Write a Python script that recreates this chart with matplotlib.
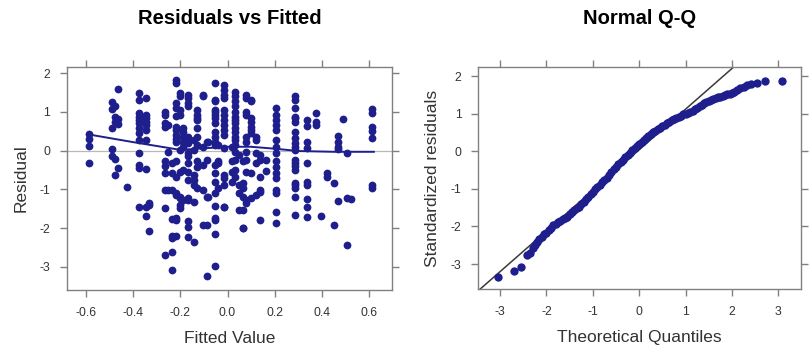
import matplotlib
matplotlib.use("Agg")
import matplotlib.pyplot as plt

# ---- left panel: residuals vs fitted, grouped by fitted value ----
fit_levels = [-0.586, -0.49, -0.475, -0.462, -0.425, -0.375, -0.346, -0.332,
              -0.266, -0.254, -0.237, -0.217, -0.202, -0.19, -0.167, -0.142,
              -0.128, -0.103, -0.088, -0.082, -0.055, -0.04, -0.015, 0.017,
              0.03, 0.05, 0.065, 0.08, 0.10, 0.12, 0.137, 0.165, 0.207,
              0.285, 0.335, 0.377, 0.395, 0.42, 0.452, 0.469, 0.49, 0.505,
              0.525, 0.614]
resid_levels = [
    [0.43, 0.30, 0.13, -0.31],
    [1.25, 1.07, 0.59, 0.04, -0.14],
    [1.14, 0.88, 0.74, -0.22, -0.63],
    [1.59, 0.81, 0.69, -0.45],
    [-0.95],
    [1.50, 1.31, 0.97, 0.88, 0.79, 0.71, 0.58, 0.45, 0.28, -0.07, -0.37, -0.45, -1.45],
    [1.35, 0.92, 0.84, 0.75, 0.66, 0.54, 0.28, -0.48, -1.45, -1.69],
    [-1.34, -1.40, -2.07],
    [1.01, 0.92, 0.71, 0.62, -0.28, -0.40, -0.58, -1.02, -1.49, -2.70],
    [0.66, -0.03, -1.02],
    [-2.62, -3.08, -2.20, -2.25, -1.76, -1.02, -0.58, -0.33],
    [1.83, 1.74, 1.22, 1.11, 0.90, 0.62, 0.53, 0.41, 0.30, 0.22, -0.28, -0.67,
     -1.10, -1.14, -1.73, -1.79, -2.20],
    [1.48, 1.40, 1.05, 0.92, 0.02, -0.54, -1.19, -1.23, -1.49, -1.40],
    [0.58, 0.49, 0.36, 0.23, 0.10, -0.50, -1.27],
    [1.44, 1.35, 1.22, 1.14, 0.36, 0.19, -0.07, -0.15, -0.33, -0.54, -0.76,
     -1.23, -1.27, -1.83, -1.96, -2.22],
    [-2.35, -1.32, -0.89, -0.76, -0.63, 0.02, 0.28],
    [1.05, 0.92, 0.84, 0.79, 0.58, 0.36, 0.15, -0.28, -0.41, -0.97],
    [1.40, 1.44, 0.10, -0.37, -1.02, -1.92],
    [-3.23, -1.92, -1.21, -0.24, 0.23],
    [0.23, -1.19],
    [1.74, 1.31, 1.27, 1.05, 1.01, 0.92, 0.84, 0.71, 0.49, 0.36, 0.23, 0.15,
     -0.37, -0.58, -0.80, -1.10, -1.43, -1.73, -1.80, -2.15, -2.99],
    [0.15, -0.28, -0.97, -0.33],
    [1.70, 1.57, 1.44, 1.35, 1.05, 0.92, 0.79, 0.66, 0.53, 0.41, 0.06, -0.63,
     -0.71, -0.89, -1.46, -1.45],
    [0.10, -0.28, -0.54, -0.80],
    [1.52, 1.40, 1.27, 1.14, 1.01, 0.88, 0.79, 0.71, 0.58, 0.49, 0.36, 0.28,
     0.15, -0.03, -0.24, -0.50, -0.67],
    [-0.11, -1.10, -0.89, -1.53],
    [-1.53, -2.00, -1.99, -1.19, -0.28, -0.84, -0.97],
    [1.44, 1.35, 1.01, 0.92, 0.36, 0.23, -0.03, -0.24, -0.54, -1.27, -1.36],
    [1.31, 1.27, 0.84, 0.75, 0.62, 0.53, 0.45, -0.58, -1.23],
    [0.36, 0.28, -0.07, -0.33, -1.14],
    [-0.11, -0.24, -1.06, -1.02, -1.79, -0.67],
    [-0.24, -0.53],
    [1.10, 0.92, 0.79, 0.66, 0.53, 0.28, 0.09, -0.07, -0.28, -0.41, -0.58,
     -0.71, -1.02, -1.10, -1.58, -1.86],
    [1.41, 1.31, 1.10, 0.88, 0.84, 0.75, 0.49, 0.32, 0.19, 0.09, 0.02, -0.24,
     -0.40, -0.33, -0.50, -0.89, -0.84, -0.97, -1.19, -1.66],
    [0.79, 0.64, 0.23, 0.06, -0.33, -0.80, -0.89, -1.26, -1.45, -1.72],
    [0.97, 0.75, 0.66],
    [-1.69],
    [-0.57, -0.67],
    [-0.83, -1.92],
    [0.38, 0.23, 0.09, 0.04, -1.29],
    [0.81],
    [-0.05, -1.23, -2.44],
    [-1.26],
    [1.07, 0.97, 0.62, 0.52, 0.32, -0.89, -0.97],
]

# smoother
smooth_x = [-0.59, -0.4, -0.2, -0.1, 0.0, 0.1, 0.2, 0.3, 0.45, 0.62]
smooth_y = [0.42, 0.22, 0.02, 0.06, 0.10, 0.10, 0.05, -0.01, -0.03, -0.03]

# ---- right panel: normal Q-Q (read along the band) ----
qq_theo = [-3.05, -2.70, -2.55, -2.42, -2.35, -2.30, -2.25, -2.20, -2.15,
           -2.10, -2.05, -2.00, -1.95, -1.90, -1.85, -1.80, -1.75, -1.70,
           -1.65, -1.60, -1.55, -1.50, -1.45, -1.40, -1.35, -1.30, -1.25,
           -1.20, -1.15, -1.10, -1.05, -1.00, -0.95, -0.90, -0.85, -0.80,
           -0.75, -0.70, -0.65, -0.60, -0.55, -0.50, -0.45, -0.40, -0.35,
           -0.30, -0.25, -0.20, -0.15, -0.10, -0.05, 0.00, 0.05, 0.10, 0.15,
           0.20, 0.25, 0.30, 0.35, 0.40, 0.45, 0.50, 0.55, 0.60, 0.65, 0.70,
           0.75, 0.80, 0.85, 0.90, 0.95, 1.00, 1.05, 1.10, 1.15, 1.20, 1.25,
           1.30, 1.35, 1.40, 1.45, 1.50, 1.55, 1.60, 1.65, 1.70, 1.75, 1.80,
           1.85, 1.90, 1.95, 2.00, 2.05, 2.10, 2.18, 2.25, 2.32, 2.42, 2.53,
           2.72, 3.07]
qq_samp = [-3.34, -3.17, -3.07, -2.76, -2.70, -2.58, -2.50, -2.40, -2.33,
           -2.27, -2.21, -2.16, -2.09, -2.03, -1.97, -1.93, -1.89, -1.85,
           -1.81, -1.78, -1.74, -1.68, -1.62, -1.57, -1.52, -1.47, -1.41,
           -1.35, -1.28, -1.21, -1.14, -1.07, -1.01, -0.95, -0.89, -0.83,
           -0.77, -0.70, -0.63, -0.56, -0.48, -0.41, -0.34, -0.28, -0.22,
           -0.16, -0.10, -0.05, 0.02, 0.08, 0.14, 0.19, 0.25, 0.30, 0.36,
           0.41, 0.46, 0.51, 0.55, 0.59, 0.63, 0.67, 0.71, 0.75, 0.78, 0.82,
           0.85, 0.89, 0.92, 0.95, 0.98, 1.00, 1.02, 1.05, 1.08, 1.12, 1.16,
           1.20, 1.23, 1.27, 1.30, 1.33, 1.36, 1.39, 1.41, 1.43, 1.45, 1.47,
           1.49, 1.51, 1.53, 1.55, 1.58, 1.62, 1.67, 1.72, 1.76, 1.78, 1.82,
           1.86, 1.86]
qq_line_intercept = 0.04
qq_line_slope = 1.08

dot_col = "#1e1e8c"
frame_col = "#808080"
text_col = "#333333"

plt.rcParams["font.family"] = ["Liberation Sans", "DejaVu Sans"]

fig = plt.figure(figsize=(8.12, 3.49), dpi=100)
ax1 = fig.add_axes([0.0825, 0.169, 0.4003, 0.639])
ax2 = fig.add_axes([0.589, 0.171, 0.397, 0.636])


def lattice_style(ax):
    for s in ax.spines.values():
        s.set_color(frame_col)
        s.set_linewidth(1.0)
    ax.tick_params(direction="out", length=5, width=1.0, color=frame_col,
                   labelcolor=text_col, labelsize=8.8, top=True, right=True,
                   labeltop=False, labelright=False, pad=7)


fx = []
ry = []
for f, rs in zip(fit_levels, resid_levels):
    for r in rs:
        fx.append(f)
        ry.append(r)

ax1.axhline(0, color="#b8b8b8", lw=0.9, zorder=1)
ax1.plot(fx, ry, "o", ms=5.6, color=dot_col, mec="none", zorder=2)
ax1.plot(smooth_x, smooth_y, "-", color=dot_col, lw=1.4, zorder=3)
ax1.set_xlim(-0.68, 0.697)
ax1.set_ylim(-3.6, 2.16)
ax1.set_xticks([-0.6, -0.4, -0.2, 0.0, 0.2, 0.4, 0.6])
ax1.set_xticklabels(["-0.6", "-0.4", "-0.2", "0.0", "0.2", "0.4", "0.6"])
ax1.set_yticks([-3, -2, -1, 0, 1, 2])
ax1.set_yticklabels(["-3", "-2", "-1", "0", "1", "2"])
lattice_style(ax1)
ax1.set_xlabel("Fitted Value", fontsize=12.5, color=text_col, labelpad=9)
ax1.set_ylabel("Residual", fontsize=12.5, color=text_col, labelpad=8)

ax2.plot(qq_theo, qq_samp, "o", ms=6.0, color=dot_col, mec="none", zorder=2)
ax2.axline((0, qq_line_intercept), slope=qq_line_slope, color="#3a3a3a", lw=1.1, zorder=1)
ax2.set_xlim(-3.47, 3.48)
ax2.set_ylim(-3.67, 2.23)
ax2.set_xticks([-3, -2, -1, 0, 1, 2, 3])
ax2.set_xticklabels(["-3", "-2", "-1", "0", "1", "2", "3"])
ax2.set_yticks([-3, -2, -1, 0, 1, 2])
ax2.set_yticklabels(["-3", "-2", "-1", "0", "1", "2"])
lattice_style(ax2)
ax2.set_xlabel("Theoretical Quantiles", fontsize=12.5, color=text_col, labelpad=9)
ax2.set_ylabel("Standardized residuals", fontsize=12.5, color=text_col, labelpad=8)

fig.text(0.2828, 1 - 18 / 349, "Residuals vs Fitted", ha="center", va="center",
         fontsize=14.5, fontweight="bold")
fig.text(0.7875, 1 - 18 / 349, "Normal Q-Q", ha="center", va="center",
         fontsize=14.5, fontweight="bold")

fig.savefig("out.png", dpi=100)
